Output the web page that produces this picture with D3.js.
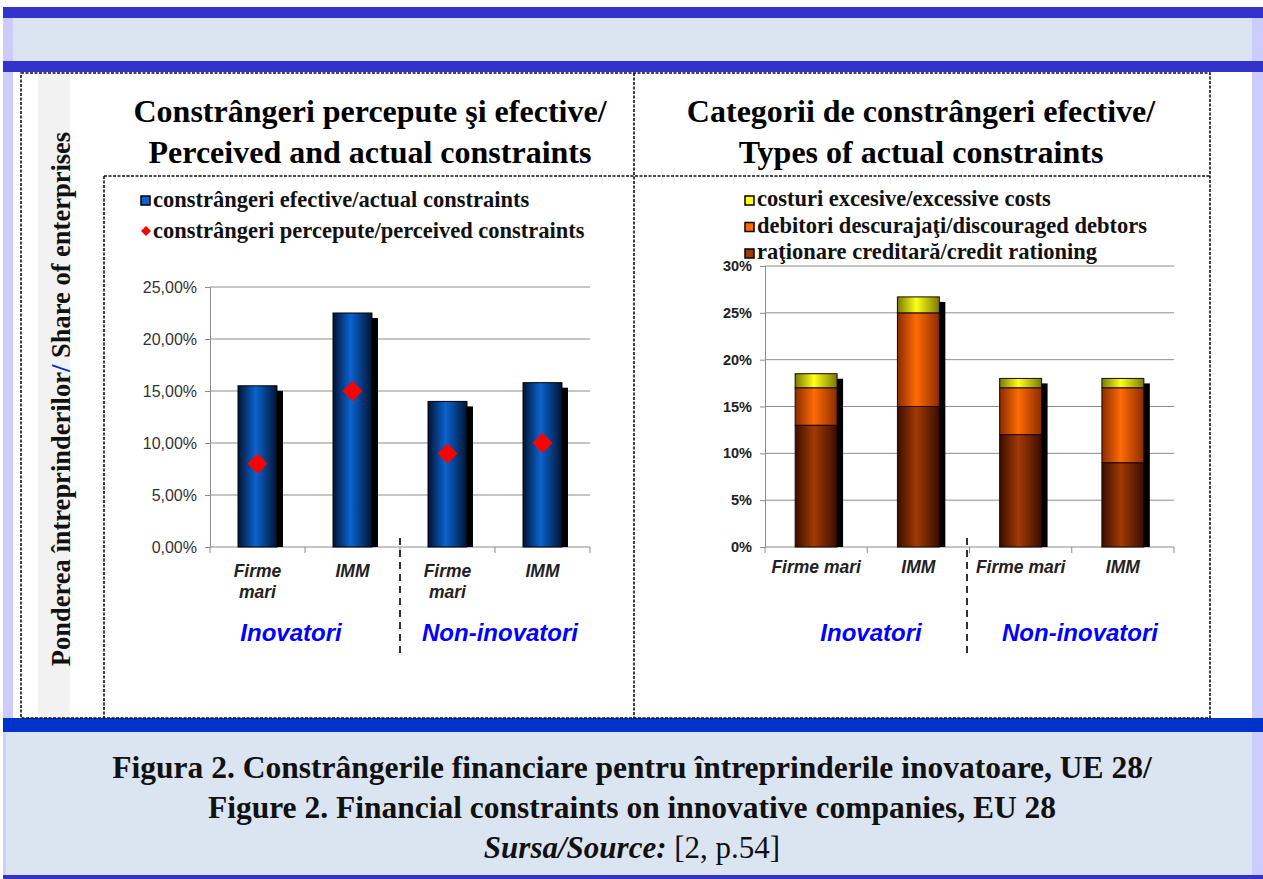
<!DOCTYPE html>
<html>
<head>
<meta charset="utf-8">
<script src="https://cdn.jsdelivr.net/npm/d3@7"></script>
<style>
  body { margin: 0; background: #fff; }
  svg { display: block; }
</style>
</head>
<body>
<div id="chart"></div>
<script>
// data
const categories = ['Firme mari', 'IMM', 'Firme mari', 'IMM'];
const groups = ['Inovatori', 'Non-inovatori'];
const actualConstraints = [15.5, 22.5, 14.0, 15.8];
const perceivedConstraints = [8.0, 15.0, 9.0, 10.0];
const creditRationing = [13.0, 15.0, 12.0, 9.0];
const discouragedDebtors = [4.0, 10.0, 5.0, 8.0];
const excessiveCosts = [1.5, 1.7, 1.0, 1.0];
const leftTicks = [0, 5, 10, 15, 20, 25];
const rightTicks = [0, 5, 10, 15, 20, 25, 30];

const W = 1263, H = 879;
const serif = '"Liberation Serif", "Times New Roman", serif';
const sans = '"Liberation Sans", Arial, sans-serif';

const svg = d3.select('#chart').append('svg')
    .attr('width', W)
    .attr('height', H);

const defs = svg.append('defs');
function hGrad(id, edge, mid) {
    const g = defs.append('linearGradient').attr('id', id)
        .attr('x1', 0).attr('x2', 1).attr('y1', 0).attr('y2', 0);
    g.append('stop').attr('offset', '0%').attr('stop-color', edge);
    g.append('stop').attr('offset', '45%').attr('stop-color', mid);
    g.append('stop').attr('offset', '100%').attr('stop-color', edge);
}
hGrad('gBlue', '#021433', '#0b63d0');
hGrad('gBrown', '#3a0d00', '#a33a05');
hGrad('gOrange', '#8a2c00', '#ff6a05');
hGrad('gYellow', '#7a7a00', '#ffff1a');

// page frame
svg.append('rect').attr('x', 3).attr('y', 7).attr('width', W - 3).attr('height', H - 7).attr('fill', '#ccccff');
svg.append('rect').attr('x', 13).attr('y', 18).attr('width', 1239).attr('height', 43).attr('fill', '#dbe5f1');
svg.append('rect').attr('x', 3).attr('y', 7).attr('width', W - 3).attr('height', 11).attr('fill', '#3333cc');
svg.append('rect').attr('x', 3).attr('y', 61).attr('width', W - 3).attr('height', 11).attr('fill', '#3333cc');
svg.append('rect').attr('x', 13).attr('y', 72).attr('width', 1239).attr('height', 646).attr('fill', '#ffffff');
svg.append('rect').attr('x', 38).attr('y', 72).attr('width', 32).attr('height', 646).attr('fill', '#f2f2f2');
svg.append('rect').attr('x', 3).attr('y', 718).attr('width', W - 3).attr('height', 14).attr('fill', '#0033cc');
svg.append('rect').attr('x', 6).attr('y', 732).attr('width', 1246).attr('height', 143).attr('fill', '#dbe5f1');
svg.append('rect').attr('x', 3).attr('y', 875).attr('width', W - 3).attr('height', 4).attr('fill', '#3333cc');

// dashed frames
const dash = g => g.attr('stroke', '#111').attr('stroke-width', 1.6).attr('stroke-dasharray', '3,1.5').attr('fill', 'none');
svg.append('rect').attr('x', 21).attr('y', 73).attr('width', 1189).attr('height', 645).call(dash);
svg.append('line').attr('x1', 634).attr('x2', 634).attr('y1', 73).attr('y2', 718).call(dash);
svg.append('line').attr('x1', 104).attr('x2', 1210).attr('y1', 176).attr('y2', 176).call(dash);
svg.append('line').attr('x1', 104).attr('x2', 104).attr('y1', 176).attr('y2', 718).call(dash);

// vertical label
const vlab = svg.append('text')
    .attr('transform', 'translate(70,399) rotate(-90)')
    .attr('text-anchor', 'middle')
    .style('font-family', serif).style('font-weight', 'bold').style('font-size', '26.5px')
    .attr('fill', '#111');
vlab.append('tspan').text('Ponderea întreprinderilor');
vlab.append('tspan').attr('fill', '#0033cc').text('/ ');
vlab.append('tspan').text('Share of enterprises');

// titles
function title(x, lines) {
    lines.forEach((t, i) => {
        svg.append('text').attr('x', x).attr('y', 122 + i * 41)
            .attr('text-anchor', 'middle')
            .style('font-family', serif).style('font-weight', 'bold').style('font-size', '32px')
            .attr('fill', '#000').text(t);
    });
}
title(370, ['Constrângeri percepute şi efective/', 'Perceived and actual constraints']);
title(921, ['Categorii de constrângeri efective/', 'Types of actual constraints']);

// ---------- left chart ----------
const xL = d3.scaleBand().domain(d3.range(4)).range([210, 590]).paddingInner(0.59).paddingOuter(0.295);
const yL = d3.scaleLinear().domain([0, 25]).range([547, 287]);

const left = svg.append('g');
left.selectAll('line.grid').data(leftTicks.slice(1)).join('line')
    .attr('x1', 210).attr('x2', 590)
    .attr('y1', d => yL(d)).attr('y2', d => yL(d))
    .attr('stroke', '#8c8c8c').attr('stroke-width', 1);

const yAxisL = left.append('g').attr('transform', 'translate(210,0)')
    .call(d3.axisLeft(yL).tickValues(leftTicks).tickSize(5).tickFormat(d => d3.format('.2f')(d).replace('.', ',') + '%'));
yAxisL.select('.domain').attr('stroke', '#8c8c8c');
yAxisL.selectAll('.tick line').attr('stroke', '#8c8c8c');
yAxisL.selectAll('text').style('font-family', sans).style('font-size', '16px').attr('fill', '#333').attr('x', -13);

const xAxisL = left.append('g').attr('transform', 'translate(0,547)');
xAxisL.append('line').attr('x1', 210).attr('x2', 590).attr('stroke', '#8c8c8c');
xAxisL.selectAll('line.t').data(d3.range(5)).join('line')
    .attr('x1', d => 210 + d * 95).attr('x2', d => 210 + d * 95)
    .attr('y1', 0).attr('y2', 6).attr('stroke', '#8c8c8c');

// bars with shadow
left.selectAll('rect.sh').data(actualConstraints).join('rect')
    .attr('x', (d, i) => xL(i) + 6).attr('y', d => yL(d) + 5)
    .attr('width', xL.bandwidth()).attr('height', d => yL(0) - yL(d) - 5)
    .attr('fill', '#000');
left.selectAll('rect.bar').data(actualConstraints).join('rect')
    .attr('x', (d, i) => xL(i)).attr('y', d => yL(d))
    .attr('width', xL.bandwidth()).attr('height', d => yL(0) - yL(d))
    .attr('fill', 'url(#gBlue)').attr('stroke', '#000').attr('stroke-width', 1);

left.selectAll('path.dia').data(perceivedConstraints).join('path')
    .attr('transform', (d, i) => `translate(${xL(i) + xL.bandwidth() / 2},${yL(d)})`)
    .attr('d', 'M0,-10L10,0L0,10L-10,0Z')
    .attr('fill', '#ff0000');

// x labels left
categories.forEach((c, i) => {
    const cx = xL(i) + xL.bandwidth() / 2;
    const parts = c === 'Firme mari' ? ['Firme', 'mari'] : [c];
    parts.forEach((p, j) => {
        left.append('text').attr('x', cx).attr('y', 577 + j * 21)
            .attr('text-anchor', 'middle')
            .style('font-family', sans).style('font-weight', 'bold').style('font-style', 'italic').style('font-size', '17.5px')
            .attr('fill', '#222').text(p);
    });
});

// ---------- right chart ----------
const xR = d3.scaleBand().domain(d3.range(4)).range([765, 1174]).paddingInner(0.59).paddingOuter(0.295);
const yR = d3.scaleLinear().domain([0, 30]).range([547, 266]);

const right = svg.append('g');
right.selectAll('line.grid').data(rightTicks.slice(1)).join('line')
    .attr('x1', 765).attr('x2', 1174)
    .attr('y1', d => yR(d)).attr('y2', d => yR(d))
    .attr('stroke', '#8c8c8c').attr('stroke-width', 1);

const yAxisR = right.append('g').attr('transform', 'translate(765,0)')
    .call(d3.axisLeft(yR).tickValues(rightTicks).tickSize(5).tickFormat(d => d + '%'));
yAxisR.select('.domain').attr('stroke', '#8c8c8c');
yAxisR.selectAll('.tick line').attr('stroke', '#8c8c8c');
yAxisR.selectAll('text').style('font-family', sans).style('font-weight', 'bold').style('font-size', '14.5px').attr('fill', '#222').attr('x', -13);

const xAxisR = right.append('g').attr('transform', 'translate(0,547)');
xAxisR.append('line').attr('x1', 765).attr('x2', 1174).attr('stroke', '#8c8c8c');
xAxisR.selectAll('line.t').data(d3.range(5)).join('line')
    .attr('x1', d => 765 + d * 102.25).attr('x2', d => 765 + d * 102.25)
    .attr('y1', 0).attr('y2', 6).attr('stroke', '#8c8c8c');

const stackData = categories.map((c, i) => ({
    i: i, rationing: creditRationing[i], discouraged: discouragedDebtors[i], costs: excessiveCosts[i]
}));
const stack = d3.stack().keys(['rationing', 'discouraged', 'costs'])(stackData);
const fills = { rationing: 'url(#gBrown)', discouraged: 'url(#gOrange)', costs: 'url(#gYellow)' };

right.selectAll('rect.sh').data(stack[2]).join('rect')
    .attr('x', (d, i) => xR(i) + 6).attr('y', d => yR(d[1]) + 5)
    .attr('width', xR.bandwidth()).attr('height', d => yR(0) - yR(d[1]) - 5)
    .attr('fill', '#000');

stack.forEach(layer => {
    right.selectAll(null).data(layer).join('rect')
        .attr('x', (d, i) => xR(i)).attr('y', d => yR(d[1]))
        .attr('width', xR.bandwidth()).attr('height', d => yR(d[0]) - yR(d[1]))
        .attr('fill', fills[layer.key]).attr('stroke', '#1a0500').attr('stroke-width', 1);
});

categories.forEach((c, i) => {
    right.append('text').attr('x', xR(i) + xR.bandwidth() / 2).attr('y', 573)
        .attr('text-anchor', 'middle')
        .style('font-family', sans).style('font-weight', 'bold').style('font-style', 'italic').style('font-size', '17.5px')
        .attr('fill', '#222').text(c);
});

// separators and group labels
[[400, 291, 500], [967, 871, 1080]].forEach(([sx, g1, g2]) => {
    svg.append('line').attr('x1', sx).attr('x2', sx).attr('y1', 538).attr('y2', 657)
        .attr('stroke', '#000').attr('stroke-width', 1.6).attr('stroke-dasharray', '7,5');
    [g1, g2].forEach((gx, k) => {
        svg.append('text').attr('x', gx).attr('y', 641).attr('text-anchor', 'middle')
            .style('font-family', sans).style('font-weight', 'bold').style('font-style', 'italic').style('font-size', '24px')
            .attr('fill', '#0000ff').text(groups[k]);
    });
});

// legends
const legText = (x, y, t) => svg.append('text').attr('x', x).attr('y', y)
    .style('font-family', serif).style('font-weight', 'bold').style('font-size', '22.5px')
    .attr('fill', '#111').text(t);
svg.append('rect').attr('x', 141).attr('y', 196).attr('width', 9).attr('height', 9)
    .attr('fill', '#0b63d0').attr('stroke', '#000').attr('stroke-width', 1.5);
legText(153, 207, 'constrângeri efective/actual constraints');
svg.append('path').attr('transform', 'translate(146,231)').attr('d', 'M0,-5L5,0L0,5L-5,0Z').attr('fill', '#ff0000');
legText(153, 238, 'constrângeri percepute/perceived constraints');

[['#ffff1a', 'costuri excesive/excessive costs'],
 ['#ff6a05', 'debitori descurajaţi/discouraged debtors'],
 ['#a33a05', 'raţionare creditară/credit rationing']].forEach(([col, t], k) => {
    const y = 206 + k * 26.5;
    svg.append('rect').attr('x', 745).attr('y', y - 10).attr('width', 9).attr('height', 9)
        .attr('fill', col).attr('stroke', '#000').attr('stroke-width', 1.5);
    legText(757, y, t);
});

// caption
const cap = (y, t) => svg.append('text').attr('x', 632).attr('y', y).attr('text-anchor', 'middle')
    .style('font-family', serif).style('font-weight', 'bold').style('font-size', '31.5px')
    .attr('fill', '#111').text(t);
cap(778, 'Figura 2. Constrângerile financiare pentru întreprinderile inovatoare, UE 28/');
cap(818, 'Figure 2. Financial constraints on innovative companies, EU 28');
const src = svg.append('text').attr('x', 632).attr('y', 858).attr('text-anchor', 'middle')
    .style('font-family', serif).style('font-size', '31px').attr('fill', '#111');
src.append('tspan').style('font-weight', 'bold').style('font-style', 'italic').text('Sursa/Source:');
src.append('tspan').text(' [2, p.54]');
</script>
</body>
</html>
